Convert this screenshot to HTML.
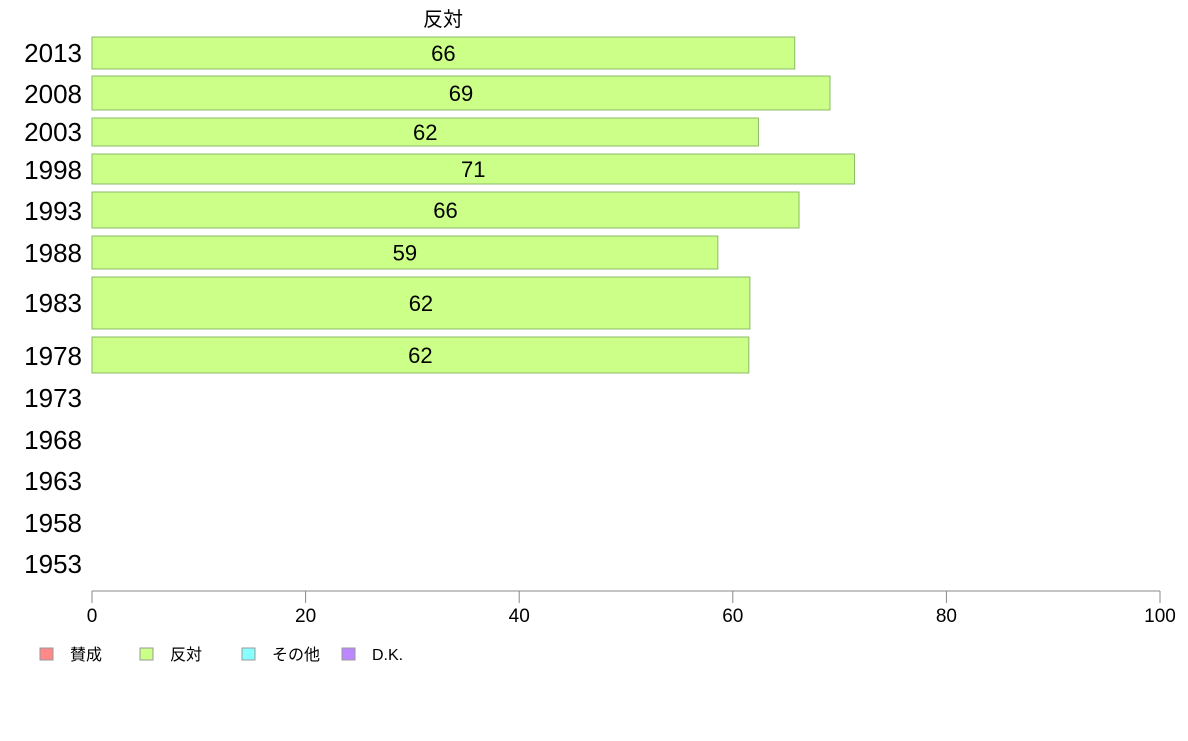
<!DOCTYPE html>
<html><head><meta charset="utf-8"><style>
body{margin:0;background:#fff;width:1188px;height:736px;overflow:hidden}
svg{font-family:"Liberation Sans","Noto Sans CJK JP",sans-serif}
</style></head><body>
<svg id="c" width="1188" height="736"></svg>
<script>
const years=["2013","2008","2003","1998","1993","1988","1983","1978","1973","1968","1963","1958","1953"];
const values=[65.8,69.1,62.4,71.4,66.2,58.6,61.6,61.5,null,null,null,null,null];
const printed=["66","69","62","71","66","59","62","62"];
const ticks=[0,20,40,60,80,100];
const legendLabels=["賛成","反対","その他","D.K."];
// layout (pixel rows, not data)
const rowTop=[37,76,118,154,192,236,277,337];
const rowBot=[69,110,146,184,228,269,329,373];
const labelY=[53,94,132,170,211,253,303,356,398,440,481,523,564];
const legendColors=["#ff8888","#ccff88","#88ffff","#bb88ff"];
const legendX=[40,140,242,342];
const NS="http://www.w3.org/2000/svg",svg=document.getElementById("c");
const x=v=>92+v*10.68;
function mk(t,a,txt){const e=document.createElementNS(NS,t);for(const k in a)e.setAttribute(k,a[k]);if(txt!=null)e.textContent=txt;svg.appendChild(e);return e;}
let e=mk("text",{x:443,y:26,"font-size":20,"text-anchor":"middle",fill:"#000"},"反対");


years.forEach((y,i)=>{
  const l=mk("text",{x:82,y:labelY[i]+9,"font-size":26,"text-anchor":"end",fill:"#000"},y);
  
  
  if(values[i]!=null&&i<rowTop.length){
    const r=mk("rect",{x:92,y:rowTop[i],width:x(values[i])-92,height:rowBot[i]-rowTop[i],fill:"#ccff88",stroke:"#88bb66","stroke-width":1});
    
    
    const t=mk("text",{x:(92+x(values[i]))/2,y:(rowTop[i]+rowBot[i])/2+8,"font-size":22,"text-anchor":"middle",fill:"#000"},printed[i]);
    
    
  }
});
e=mk("line",{x1:92,x2:1160,y1:591,y2:591,stroke:"#888","stroke-width":1});


ticks.forEach(v=>{
  const tl=mk("line",{x1:x(v),x2:x(v),y1:591,y2:603,stroke:"#888","stroke-width":1});
  
  
  const tt=mk("text",{x:x(v),y:622,"font-size":19,"text-anchor":"middle",fill:"#000"},String(v));
  
  
});
legendLabels.forEach((s,i)=>{
  const r=mk("rect",{x:legendX[i],y:648,width:13,height:12,fill:legendColors[i],stroke:"#999","stroke-width":1});
  
  
  const t=mk("text",{x:legendX[i]+30,y:660,"font-size":16,fill:"#000"},s);
  
  
});
</script>
</body></html>
